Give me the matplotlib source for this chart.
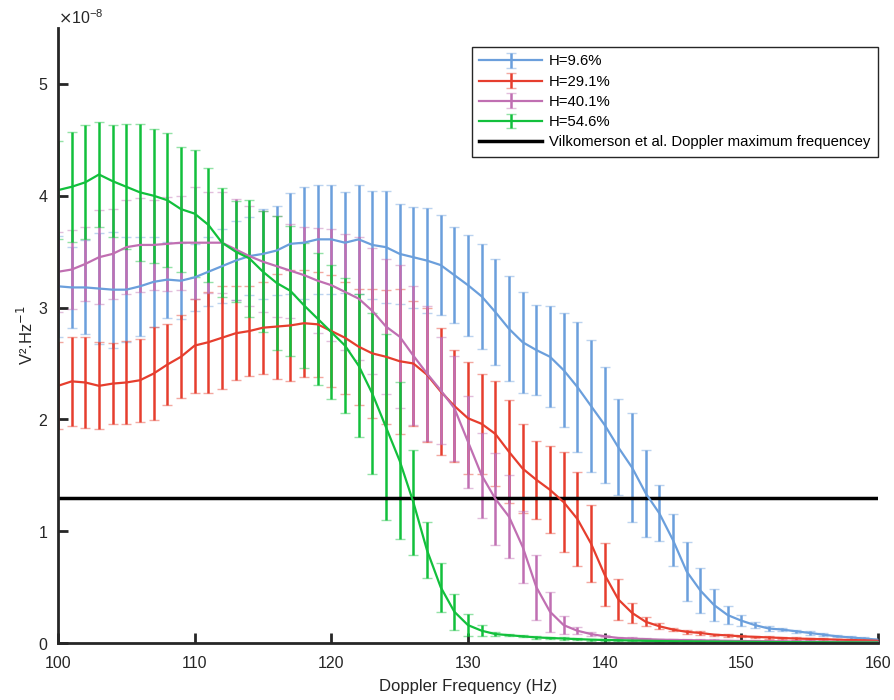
import numpy as np
import matplotlib
matplotlib.use("Agg")
import matplotlib.pyplot as plt

plt.rcParams['font.family'] = ['Liberation Sans', 'DejaVu Sans']

# Doppler frequency (Hz), 1 Hz step
freq = np.arange(100, 161)

# mean spectra, units of 1e-8 V^2/Hz
h096 = [3.19, 3.18, 3.18, 3.17, 3.16, 3.16, 3.19, 3.23, 3.25, 3.24,
        3.27, 3.32, 3.37, 3.42, 3.46, 3.48, 3.51, 3.57, 3.58, 3.61,
        3.61, 3.58, 3.61, 3.56, 3.54, 3.48, 3.45, 3.42, 3.38, 3.29,
        3.20, 3.10, 2.96, 2.81, 2.69, 2.62, 2.56, 2.44, 2.29, 2.12,
        1.95, 1.75, 1.57, 1.34, 1.16, 0.92, 0.64, 0.47, 0.34, 0.25,
        0.20, 0.16, 0.13, 0.12, 0.105, 0.09, 0.075, 0.06, 0.05, 0.04, 0.03]
h096_err = [0.45, 0.36, 0.42, 0.50, 0.52, 0.47, 0.44, 0.40, 0.34, 0.34,
            0.30, 0.31, 0.33, 0.35, 0.35, 0.40, 0.40, 0.45, 0.50, 0.49,
            0.49, 0.45, 0.49, 0.48, 0.50, 0.45, 0.45, 0.47, 0.45, 0.43,
            0.45, 0.47, 0.47, 0.47, 0.45, 0.40, 0.45, 0.51, 0.58, 0.59,
            0.52, 0.43, 0.49, 0.39, 0.25, 0.23, 0.26, 0.20, 0.14, 0.08,
            0.05, 0.03, 0.02, 0.015, 0.015, 0.015, 0.015, 0.01, 0.01, 0.01, 0.01]

h291 = [2.30, 2.34, 2.33, 2.30, 2.32, 2.33, 2.35, 2.41, 2.49, 2.56,
        2.66, 2.69, 2.73, 2.77, 2.79, 2.82, 2.83, 2.84, 2.86, 2.85,
        2.79, 2.73, 2.65, 2.59, 2.56, 2.52, 2.50, 2.40, 2.25, 2.12,
        2.01, 1.96, 1.87, 1.71, 1.56, 1.46, 1.37, 1.26, 1.11, 0.89,
        0.61, 0.39, 0.27, 0.19, 0.15, 0.12, 0.10, 0.09, 0.075, 0.068,
        0.06, 0.055, 0.05, 0.045, 0.04, 0.037, 0.034, 0.03, 0.027, 0.024, 0.02]
h291_err = [0.39, 0.40, 0.41, 0.39, 0.36, 0.37, 0.37, 0.42, 0.36, 0.37,
            0.42, 0.45, 0.46, 0.42, 0.40, 0.41, 0.47, 0.50, 0.48, 0.47,
            0.50, 0.50, 0.52, 0.58, 0.60, 0.65, 0.56, 0.60, 0.57, 0.50,
            0.50, 0.45, 0.47, 0.46, 0.40, 0.35, 0.39, 0.45, 0.42, 0.34,
            0.28, 0.18, 0.09, 0.04, 0.025, 0.015, 0.015, 0.015, 0.01, 0.01,
            0.01, 0.01, 0.01, 0.01, 0.01, 0.01, 0.01, 0.01, 0.01, 0.01, 0.01]

h401 = [3.32, 3.34, 3.39, 3.45, 3.48, 3.54, 3.56, 3.56, 3.57, 3.58,
        3.58, 3.58, 3.58, 3.52, 3.46, 3.41, 3.37, 3.33, 3.29, 3.24,
        3.20, 3.14, 3.08, 2.97, 2.83, 2.74, 2.57, 2.41, 2.26, 2.10,
        1.80, 1.50, 1.29, 1.13, 0.86, 0.50, 0.28, 0.16, 0.11, 0.08,
        0.06, 0.045, 0.04, 0.035, 0.03, 0.028, 0.026, 0.024, 0.022, 0.02,
        0.018, 0.017, 0.016, 0.015, 0.014, 0.013, 0.012, 0.011, 0.01, 0.01, 0.01]
h401_err = [0.36, 0.35, 0.33, 0.42, 0.40, 0.42, 0.42, 0.40, 0.42, 0.42,
            0.50, 0.45, 0.45, 0.45, 0.45, 0.45, 0.45, 0.42, 0.43, 0.47,
            0.50, 0.52, 0.55, 0.56, 0.60, 0.64, 0.62, 0.60, 0.48, 0.47,
            0.41, 0.38, 0.41, 0.37, 0.32, 0.29, 0.18, 0.08, 0.03, 0.015,
            0.01, 0.01, 0.01, 0.01, 0.01, 0.01, 0.01, 0.01, 0.01, 0.01,
            0.01, 0.01, 0.01, 0.01, 0.01, 0.01, 0.01, 0.01, 0.01, 0.01, 0.01]

h546 = [4.05, 4.08, 4.12, 4.19, 4.13, 4.08, 4.03, 4.00, 3.96, 3.88,
        3.84, 3.74, 3.58, 3.50, 3.44, 3.32, 3.22, 3.15, 3.02, 2.90,
        2.78, 2.66, 2.48, 2.23, 1.93, 1.63, 1.26, 0.83, 0.50, 0.28,
        0.16, 0.11, 0.08, 0.07, 0.06, 0.05, 0.045, 0.04, 0.035, 0.03,
        0.027, 0.025, 0.022, 0.02, 0.018, 0.016, 0.015, 0.014, 0.013, 0.012,
        0.011, 0.01, 0.009, 0.008, 0.008, 0.007, 0.007, 0.006, 0.006, 0.005, 0.005]
h546_err = [0.44, 0.49, 0.51, 0.47, 0.50, 0.56, 0.61, 0.60, 0.60, 0.56,
            0.57, 0.51, 0.49, 0.45, 0.52, 0.54, 0.60, 0.58, 0.56, 0.59,
            0.60, 0.60, 0.64, 0.72, 0.83, 0.70, 0.47, 0.25, 0.22, 0.16,
            0.10, 0.05, 0.02, 0.01, 0.01, 0.01, 0.01, 0.01, 0.01, 0.01,
            0.005, 0.005, 0.005, 0.005, 0.005, 0.005, 0.005, 0.005, 0.005, 0.005,
            0.005, 0.005, 0.005, 0.005, 0.005, 0.005, 0.005, 0.005, 0.005, 0.005, 0.005]

vilkomerson = 1.3  # 1e-8

labels = ['H=9.6%', 'H=29.1%', 'H=40.1%', 'H=54.6%']
colors = ['#6b9fdc', '#e63e2e', '#c06fb2', '#12c03c']
series = [(h096, h096_err), (h291, h291_err), (h401, h401_err), (h546, h546_err)]
scale = 1e-8

fig = plt.figure(figsize=(8.95, 7.0), dpi=100)
ax = fig.add_axes([0.0648, 0.0814, 0.9162, 0.8786])

handles = []
for (m, e), lab, c in zip(series, labels, colors):
    cont = ax.errorbar(freq, np.array(m) * scale, yerr=np.array(e) * scale, color=c,
                       lw=1.6, elinewidth=1.8, capsize=3.5, capthick=1.0, label=lab)
    for cap in cont[1]:
        cap.set_alpha(0.45)
    handles.append(cont)

hl = ax.axhline(vilkomerson * scale, color='black', lw=2.5,
                label='Vilkomerson et al. Doppler maximum frequencey')
handles.append(hl)

ax.set_xlim(100, 160)
ax.set_ylim(0, 5.5e-8)
ax.set_xticks(np.arange(100, 161, 10))
ax.set_yticks(np.arange(0, 5.1e-8, 1e-8))
ax.ticklabel_format(axis='y', style='sci', scilimits=(0, 0), useMathText=True)
ax.yaxis.get_offset_text().set_fontsize(11.5)
ax.yaxis.get_offset_text().set_color('#262626')

for s in ['top', 'right']:
    ax.spines[s].set_visible(False)
for s in ['left', 'bottom']:
    ax.spines[s].set_linewidth(2.0)
    ax.spines[s].set_color('#262626')
ax.tick_params(direction='in', length=7, width=2, labelsize=11.5, colors='#262626')
ax.tick_params(axis='x', pad=9)
ax.tick_params(axis='y', pad=7)

ax.set_xlabel('Doppler Frequency (Hz)', fontsize=12, color='#262626', labelpad=6)
ax.set_ylabel('V².Hz$^{-1}$', fontsize=12, color='#262626', labelpad=1)

leg = ax.legend(handles=handles, labels=labels + [hl.get_label()],
                loc='upper right', bbox_to_anchor=(1.0, 0.969), borderaxespad=0,
                fontsize=10.7, frameon=True, fancybox=False, edgecolor='#262626',
                framealpha=1, handlelength=4.2, borderpad=0.5, labelspacing=0.42,
                handletextpad=0.5)
leg.get_frame().set_linewidth(1.0)

fig.savefig('out.png', dpi=100)
